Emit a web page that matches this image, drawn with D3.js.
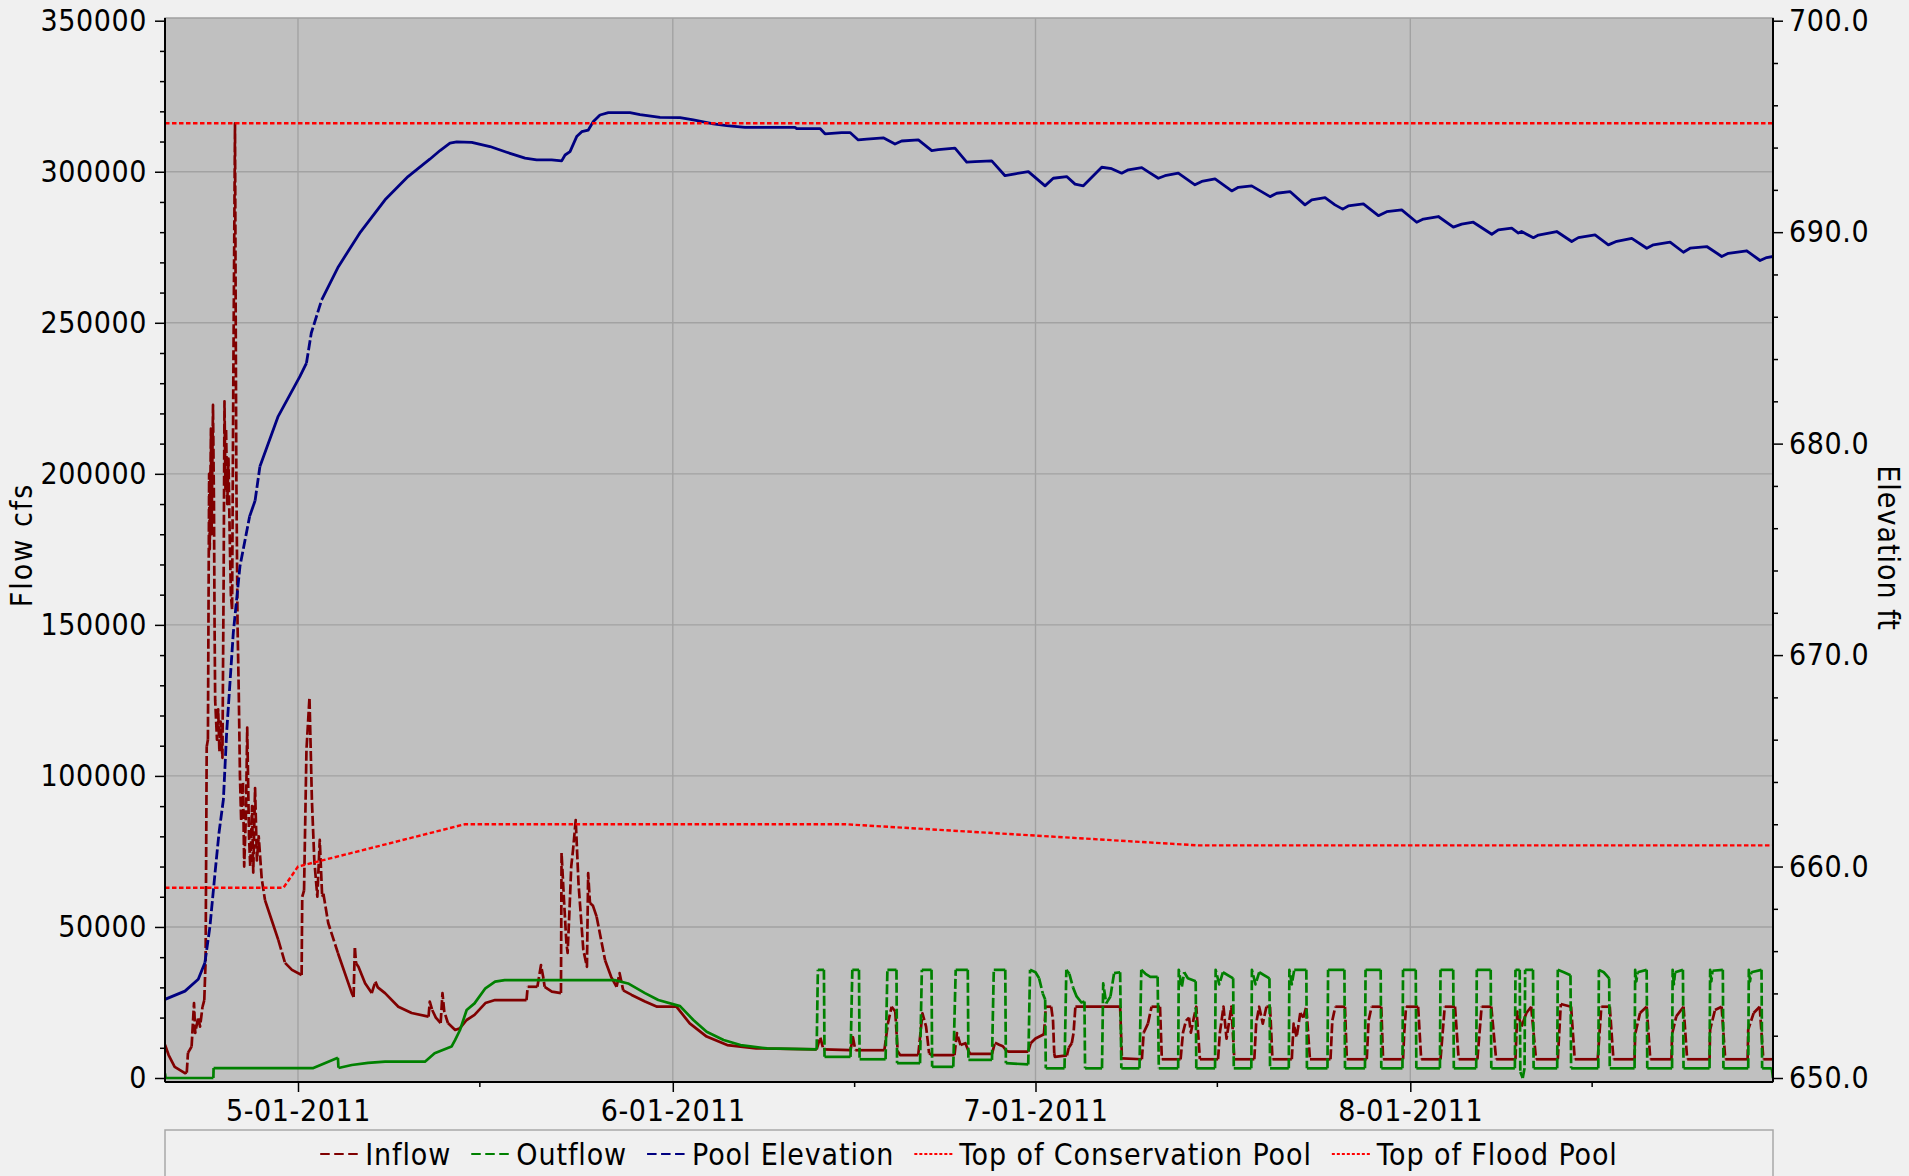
<!DOCTYPE html>
<html lang="en">
<head>
<meta charset="utf-8">
<title>Reservoir operations 2011</title>
<script src="https://d3js.org/d3.v7.min.js"></script>
<style>
  html, body { margin: 0; padding: 0; background: #f0f0f0; }
  svg { display: block; }
  text { font-family: "DejaVu Sans Condensed", "DejaVu Sans", sans-serif; font-stretch: condensed; fill: #000; letter-spacing: 0.6px; }
</style>
</head>
<body>
<script>
// ---- data (day offsets from 4-20-2011) ----
var seriesNames = ["Inflow", "Outflow", "Pool Elevation", "Top of Conservation Pool", "Top of Flood Pool"];

var inflow = [
  [0,11000],[0.3,7600],[0.8,3700],[1.65,1600],[1.8,1800],[1.9,8300],[2.2,10400],[2.4,24800],[2.5,14900],[2.75,20200],
  [2.9,17000],[3.1,23500],[3.25,25800],[3.36,39000],[3.45,109700],[3.55,112000],[3.65,200000],[3.7,175000],[3.8,215000],
  [3.85,180000],[3.97,222800],[4.05,190000],[4.1,150000],[4.15,125000],[4.3,112000],[4.4,122000],[4.5,108000],[4.6,118000],
  [4.75,106000],[4.85,165000],[4.92,224000],[5.0,195000],[5.05,215000],[5.15,190000],[5.25,205000],[5.35,180000],
  [5.45,160000],[5.55,155000],[5.65,230000],[5.79,316000],[5.85,250000],[5.9,200000],[6.0,150000],[6.1,128000],
  [6.2,100000],[6.3,85000],[6.45,98000],[6.55,70000],[6.7,88000],[6.8,116000],[6.95,80000],[7.05,70000],[7.2,90000],
  [7.3,68000],[7.45,96000],[7.6,72000],[7.75,80000],[8.0,66000],[8.27,58900],[8.82,52300],[9.37,45700],[9.93,38100],
  [10.5,35800],[11.3,34100],[11.35,60000],[11.5,62000],[11.7,108600],[11.95,126000],[12.15,92000],[12.35,72000],
  [12.6,60000],[12.8,78800],[13.0,60000],[13.1,61000],[13.5,51300],[14.3,41400],[15.45,28100],[15.6,26800],[15.7,43500],
  [15.8,38000],[16.0,36800],[16.55,31400],[17.1,28100],[17.4,31900],[17.6,30000],[18.2,28100],[19.3,23600],[20.4,21500],
  [21.8,20300],[21.9,25300],[22.1,22500],[22.4,20000],[22.8,18200],[22.95,28100],[23.1,22000],[23.4,18200],[24.0,15900],
  [24.4,16500],[24.95,19200],[25.6,20900],[26.5,24800],[27.3,25800],[29.9,25800],[30.0,30200],[30.8,30200],[31.1,37400],
  [31.3,33000],[31.4,30200],[32.0,28600],[32.75,28100],[32.8,74500],[33.0,59000],[33.2,44700],[33.3,41400],[33.45,55000],
  [33.6,70000],[33.75,75500],[33.97,85400],[34.2,64500],[34.6,42400],[34.9,36800],[35.0,67800],[35.15,57900],[35.4,57000],
  [35.7,53400],[36.4,39000],[36.9,33500],[37.35,30200],[37.6,34700],[37.9,29000],[38.6,27500],[39.7,25300],[40.7,23600],
  [42.3,23600],[43.4,18100],[44.8,13700],[46.5,10900],[48.9,9800],[53.9,9500],[54.2,13500],[54.45,9500],[56.7,9200],
  [56.9,13500],[57.1,9200],[59.5,9200],[59.8,18200],[60.1,23600],[60.4,22000],[60.6,8900],[60.8,7600],[62.3,7600],
  [62.65,21400],[62.95,17000],[63.2,8200],[63.4,7600],[65.3,7600],[65.5,14900],[65.8,10900],[66.2,11500],[66.45,9000],
  [66.6,8000],[68.4,8000],[68.65,11700],[69.0,11000],[69.3,10500],[69.6,9000],[69.8,8700],[71.4,8700],[71.6,11500],
  [72.0,13100],[72.7,14500],[72.85,23600],[73.3,23600],[73.45,19000],[73.55,8200],[73.6,7000],[74.6,7500],[74.75,10000],
  [75.0,11500],[75.15,15000],[75.3,23600],[79.0,23600],[79.15,6500],[80.8,6200],[80.95,15000],[81.3,18000],[81.6,23600],
  [82.3,23600],[82.45,6200],[84.0,6200],[84.2,15000],[84.45,19000],[84.7,20000],[84.85,15000],[85.1,20000],[85.3,23600],
  [85.6,6200],[87.1,6200],[87.25,15000],[87.55,23600],[87.8,13000],[88.2,23600],[88.45,6200],[90.1,6200],[90.25,18000],
  [90.5,23600],[90.8,18000],[91.1,23600],[91.4,23600],[91.6,6200],[93.2,6200],[93.35,18000],[93.6,13500],[93.9,21500],
  [94.15,20000],[94.4,23600],[94.7,6200],[96.4,6200],[96.55,19000],[96.8,23600],[97.6,23600],[97.75,6200],[99.4,6200],
  [99.55,19000],[99.8,23600],[100.6,23600],[100.75,6200],[102.4,6200],[102.5,15000],[102.65,23600],[103.65,23600],
  [103.9,6200],[105.5,6200],[105.85,23600],[106.7,23600],[107.0,6200],[108.55,6200],[108.9,23600],[109.7,23600],
  [110.1,6200],[111.7,6200],[111.85,22000],[112.2,17000],[112.6,21500],[113.0,23600],[113.4,6200],[115.2,6200],
  [115.45,24500],[116.3,23600],[116.6,6200],[118.5,6200],[118.8,23600],[119.5,23600],[119.8,6200],[121.55,6200],
  [121.6,14500],[122.0,21500],[122.55,23600],[122.85,6200],[124.6,6200],[124.65,14500],[125.0,20400],[125.6,23600],
  [125.9,6200],[127.75,6200],[127.8,16000],[128.2,22500],[128.75,23600],[129.05,6200],[130.9,6200],[130.95,16000],
  [131.4,21500],[131.9,23600],[132.2,6200],[133,6200]
];

var outflow = [
  [0,1500],[0.05,0],[4.0,0],[4.02,3300],[12.27,3300],[14.3,6700],[14.35,3300],[15.45,4300],[16.8,5000],[18.2,5400],
  [21.5,5400],[22.3,8200],[23.7,10400],[24.0,12600],[24.4,15900],[24.95,22500],[25.6,24700],[26.5,29700],[27.3,31900],
  [28.1,32400],[37.2,32400],[38.3,31300],[39.7,28100],[40.8,25800],[42.6,23800],[43.7,19200],[44.8,15300],[46.2,12600],
  [47.6,10900],[49.8,9800],[53.9,9500],
  [54.0,35800],[54.5,35800],[54.55,7000],[56.7,7000],[56.85,35800],[57.4,35800],[57.45,6200],[59.6,6200],[59.75,35800],
  [60.5,35800],[60.55,4900],[62.45,4900],[62.6,35800],[63.4,35800],[63.45,3700],[65.2,3700],[65.4,35800],[66.4,35800],
  [66.45,6000],[68.4,6000],[68.55,35800],[69.5,35800],[69.55,4900],[71.4,4500],[71.55,35800],[72.0,35000],[72.3,33000],
  [72.6,28000],[72.8,26000],[72.85,3200],[74.4,3200],[74.55,35800],[74.8,34500],[75.1,30000],[75.4,27000],[75.8,25000],
  [76.05,25300],[76.1,3200],[77.5,3200],[77.6,31300],[77.85,24700],[78.2,27000],[78.5,34700],[79.0,35000],[79.1,3200],
  [80.6,3200],[80.75,35800],[81.1,34500],[81.5,33500],[82.1,33500],[82.2,3200],[83.8,3200],[83.85,35800],[84.1,30000],
  [84.3,35000],[84.6,33000],[85.25,32000],[85.3,3200],[86.85,3200],[86.9,35800],[87.2,31000],[87.5,35000],[88.35,33000],
  [88.4,3200],[89.85,3200],[89.9,35800],[90.2,31000],[90.5,35000],[91.35,33000],[91.4,3200],[92.95,3200],[93.0,35800],
  [93.2,31000],[93.4,35800],[94.4,35800],[94.45,3200],[96.15,3200],[96.2,35800],[97.55,35800],[97.6,3200],[99.25,3200],
  [99.3,35800],[100.55,35800],[100.6,3200],[102.35,3200],[102.4,35800],[103.45,35800],[103.5,3200],[105.45,3200],
  [105.5,35800],[106.55,35800],[106.6,3200],[108.45,3200],[108.5,35800],[109.65,35800],[109.7,3200],[111.65,3200],
  [111.7,35800],[112.05,35800],[112.1,2000],[112.3,0],[112.45,3200],[112.5,35800],[113.15,35800],[113.2,3200],
  [115.15,3200],[115.2,35800],[115.7,35000],[116.25,34000],[116.3,3200],[118.55,3200],[118.6,35800],[119.0,35000],
  [119.45,33000],[119.5,3200],[121.55,3200],[121.6,35800],[121.7,32000],[121.8,35000],[122.55,35800],[122.6,3200],
  [124.65,3200],[124.7,35800],[124.8,31000],[124.9,35000],[125.55,35800],[125.6,3200],[127.75,3200],[127.8,35800],
  [127.9,32000],[128.0,35500],[128.85,35800],[128.9,3200],[130.95,3200],[131.0,35800],[131.1,32000],[131.2,35000],
  [132.05,35800],[132.1,3200],[132.9,3200],[133,0]
];

var poolElevation = [
  [0,653.72],[1.65,654.11],[2.75,654.67],[3.3,655.45],[3.72,657.18],[4.14,659.71],[4.47,661.61],[4.83,663.17],[5.1,666.34],
  [5.65,671.06],[6.2,674.2],[7.0,676.56],[7.45,677.3],[7.85,678.92],[9.36,681.29],[11.16,683.18],[11.7,683.81],[12.1,685.23],
  [12.96,686.8],[14.34,688.37],[16.1,689.95],[18.2,691.53],[20.1,692.63],[21.9,693.45],[22.75,693.86],[23.57,694.21],
  [24.13,694.27],[25.37,694.25],[26.88,694.05],[28.26,693.78],[29.78,693.5],[30.74,693.42],[31.98,693.42],[32.81,693.37],
  [33.09,693.65],[33.5,693.81],[34.05,694.52],[34.47,694.75],[35.01,694.83],[35.43,695.23],[35.98,695.54],[36.67,695.65],
  [38.46,695.65],[39.29,695.56],[40.94,695.43],[42.6,695.42],[43.7,695.31],[45.35,695.12],[46.46,695.04],[47.97,694.96],
  [52.11,694.96],[52.25,694.9],[54.18,694.9],[54.59,694.65],[55.97,694.71],[56.66,694.71],[57.34,694.36],[58.04,694.4],
  [59.41,694.46],[60.38,694.17],[60.93,694.31],[62.31,694.36],[63.42,693.86],[63.96,693.9],[65.34,693.97],[66.31,693.31],
  [67.0,693.34],[68.38,693.37],[69.48,692.67],[70.31,692.76],[71.41,692.86],[72.79,692.19],[73.47,692.55],[74.58,692.63],
  [75.27,692.27],[75.96,692.19],[77.48,693.07],[78.3,693.0],[79.13,692.79],[79.68,692.95],[80.79,693.05],[81.33,692.85],
  [82.16,692.55],[82.71,692.67],[83.81,692.79],[85.19,692.24],[85.75,692.4],[86.85,692.52],[88.23,691.95],[88.78,692.12],
  [89.88,692.19],[91.4,691.68],[91.95,691.84],[93.05,691.92],[94.29,691.29],[94.85,691.53],[95.95,691.63],[96.77,691.29],
  [97.41,691.09],[97.87,691.24],[99.12,691.34],[100.36,690.78],[101.05,690.97],[102.29,691.05],[103.53,690.47],
  [104.08,690.62],[105.32,690.74],[106.56,690.24],[107.25,690.38],[108.21,690.47],[109.74,689.9],[110.28,690.11],
  [111.39,690.19],[111.94,689.96],[112.2,690.03],[113.18,689.74],[113.6,689.86],[115.11,690.03],[116.35,689.56],
  [116.9,689.74],[118.28,689.87],[119.38,689.4],[120.08,689.57],[121.32,689.71],[122.56,689.24],[123.11,689.4],
  [124.49,689.53],[125.59,689.05],[126.14,689.24],[127.52,689.32],[128.76,688.85],[129.31,689.0],[130.83,689.12],
  [131.93,688.66],[132.48,688.8],[133,688.85]
];

var conservationPool = [[0,659],[9.8,659],[11,660],[24.8,662],[56.3,662],[85.5,661],[133,661]];
var floodPool = [[0,695.15],[133,695.15]];

var flowTicks = d3.range(0, 350001, 50000);
var elevTicks = d3.range(650, 701, 10);

// ---- layout ----
var width = 1909, height = 1176;
var plotL = 165, plotR = 1773, plotT = 18, plotB = 1082;
var startDate = new Date(2011, 3, 20), endDate = new Date(2011, 7, 31);
function dayToDate(d) { return new Date(startDate.getTime() + d * 864e5); }

var x = d3.scaleTime().domain([startDate, endDate]).range([plotL, plotR]);
var yFlow = d3.scaleLinear().domain([0, 350000]).range([1078, 20.7]);
var yElev = d3.scaleLinear().domain([650, 700]).range([1078, 20.7]);

var svg = d3.select("body").append("svg")
  .attr("width", width)
  .attr("height", height);

svg.append("defs").append("clipPath").attr("id", "plotclip")
  .append("rect").attr("x", plotL).attr("y", plotT).attr("width", plotR - plotL).attr("height", plotB - plotT);

// plot background
svg.append("rect")
  .attr("x", plotL).attr("y", plotT)
  .attr("width", plotR - plotL).attr("height", plotB - plotT)
  .attr("fill", "#c0c0c0")
  .attr("stroke", "#a0a0a0")
  .attr("stroke-width", 1.5);

// gridlines
var months = d3.timeMonth.range(startDate, endDate);
var grid = svg.append("g").attr("stroke", "#a2a2a2").attr("stroke-width", 1.4);
grid.selectAll(".vg").data(months).enter().append("line")
  .attr("x1", function(d) { return x(d); }).attr("x2", function(d) { return x(d); })
  .attr("y1", plotT).attr("y2", plotB);
grid.selectAll(".hg").data(flowTicks.filter(function(v) { return v > 0 && v < 350000; })).enter().append("line")
  .attr("x1", plotL).attr("x2", plotR)
  .attr("y1", function(d) { return yFlow(d); }).attr("y2", function(d) { return yFlow(d); });

// draws a series: steep jumps get the dash pattern, gentle stretches stay solid
function drawSeries(data, yScale, color, width, dash) {
  var pts = data.map(function(p) { return [x(dayToDate(p[0])), yScale(p[1])]; });
  var runs = [], cur = null;
  for (var i = 1; i < pts.length; i++) {
    var dx = Math.abs(pts[i][0] - pts[i-1][0]), dy = Math.abs(pts[i][1] - pts[i-1][1]);
    var steep = dash != null && dy > 3 * dx && dy > 7;
    if (!cur || cur.steep !== steep) { cur = { steep: steep, pts: [pts[i-1]] }; runs.push(cur); }
    cur.pts.push(pts[i]);
  }
  var line = d3.line();
  var g = svg.append("g").attr("clip-path", "url(#plotclip)");
  runs.forEach(function(r) {
    g.append("path")
      .attr("d", line(r.pts))
      .attr("fill", "none")
      .attr("stroke", color)
      .attr("stroke-width", width)
      .attr("stroke-linejoin", "round")
      .attr("stroke-dasharray", r.steep ? dash : null);
  });
}

drawSeries(inflow, yFlow, "#800000", 2.7, "10,3");
drawSeries(outflow, yFlow, "#008000", 2.7, "10,3");
drawSeries(poolElevation, yElev, "#000080", 2.8, "10,3");

// pool guide lines (dotted all the way)
[conservationPool, floodPool].forEach(function(s) {
  svg.append("path")
    .datum(s)
    .attr("clip-path", "url(#plotclip)")
    .attr("fill", "none")
    .attr("stroke", "#ff0000")
    .attr("stroke-width", 2.4)
    .attr("stroke-dasharray", "4.5,2.5")
    .attr("d", d3.line().x(function(p) { return x(dayToDate(p[0])); }).y(function(p) { return yElev(p[1]); }));
});

// ---- axes ----
var fontSize = 30;

function styleAxis(g) {
  g.select(".domain").remove();
  g.selectAll("line").attr("stroke", "#000").attr("stroke-width", 1.5);
  g.selectAll("text").attr("font-size", fontSize).attr("font-family", null).attr("fill", "#000");
  g.attr("font-family", null).attr("font-size", null);
}

// left minor + major
svg.append("g").attr("transform", "translate(" + plotL + ",0)")
  .call(d3.axisLeft(yFlow).tickValues(d3.range(0, 350001, 10000).filter(function(v) { return v % 50000; }))
    .tickSize(5).tickFormat(""))
  .call(styleAxis);
svg.append("g").attr("transform", "translate(" + plotL + ",0)")
  .call(d3.axisLeft(yFlow).tickValues(flowTicks).tickSize(10).tickPadding(8).tickFormat(d3.format("d")))
  .call(styleAxis);

// right minor + major
svg.append("g").attr("transform", "translate(" + plotR + ",0)")
  .call(d3.axisRight(yElev).tickValues(d3.range(650, 701, 2).filter(function(v) { return v % 10; }))
    .tickSize(5).tickFormat(""))
  .call(styleAxis);
svg.append("g").attr("transform", "translate(" + plotR + ",0)")
  .call(d3.axisRight(yElev).tickValues(elevTicks).tickSize(10).tickPadding(6).tickFormat(d3.format(".1f")))
  .call(styleAxis);

// bottom: months labelled, mid-month minor ticks
svg.append("g").attr("transform", "translate(0," + plotB + ")")
  .call(d3.axisBottom(x).tickValues(months.map(function(m) { return d3.timeDay.offset(m, 15); }))
    .tickSize(5).tickFormat(""))
  .call(styleAxis);
svg.append("g").attr("transform", "translate(0," + plotB + ")")
  .call(d3.axisBottom(x).tickValues(months).tickSize(10).tickPadding(8).tickFormat(d3.timeFormat("%-m-%d-%Y")))
  .call(styleAxis);

// axis frame lines
var frame = svg.append("g").attr("stroke", "#000").attr("stroke-width", 2);
frame.append("line").attr("x1", plotL).attr("x2", plotL).attr("y1", plotT).attr("y2", plotB);
frame.append("line").attr("x1", plotR).attr("x2", plotR).attr("y1", plotT).attr("y2", plotB);
frame.append("line").attr("x1", plotL).attr("x2", plotR).attr("y1", plotB).attr("y2", plotB);

// axis titles
svg.append("text")
  .attr("transform", "translate(21," + 545 + ") rotate(-90)")
  .attr("text-anchor", "middle").attr("dominant-baseline", "central")
  .attr("font-size", fontSize)
  .style("letter-spacing", "2px")
  .text("Flow cfs");
svg.append("text")
  .attr("transform", "translate(1888," + 548 + ") rotate(90)")
  .attr("text-anchor", "middle").attr("dominant-baseline", "central")
  .attr("font-size", fontSize)
  .style("letter-spacing", "1px")
  .text("Elevation ft");

// ---- legend ----
svg.append("rect")
  .attr("x", plotL).attr("y", 1130)
  .attr("width", plotR - plotL).attr("height", 60)
  .attr("fill", "#f0f0f0")
  .attr("stroke", "#a8a8a8")
  .attr("stroke-width", 1.5);

var legendColors = ["#800000", "#008000", "#000080", "#ff0000", "#ff0000"];
var legendDash = ["9.5,4.5", "9.5,4.5", "9.5,4.5", "3,2", "3,2"];
var legendY = 1154;
var lg = svg.append("g");
var items = seriesNames.map(function(name, i) {
  var t = lg.append("text").attr("font-size", fontSize).attr("dominant-baseline", "central")
    .attr("y", legendY).style("letter-spacing", "0.9px").text(name);
  return { t: t, w: t.node().getComputedTextLength(), i: i };
});
var swatch = 38, swGap = 7, itemGap = 20;
var total = d3.sum(items, function(it) { return swatch + swGap + it.w; }) + itemGap * (items.length - 1);
var cx = (plotL + plotR) / 2 - total / 2;
items.forEach(function(it) {
  lg.append("line")
    .attr("x1", cx).attr("x2", cx + swatch)
    .attr("y1", legendY).attr("y2", legendY)
    .attr("stroke", legendColors[it.i])
    .attr("stroke-width", 2.2)
    .attr("stroke-dasharray", legendDash[it.i]);
  it.t.attr("x", cx + swatch + swGap);
  cx += swatch + swGap + it.w + itemGap;
});
</script>
</body>
</html>
